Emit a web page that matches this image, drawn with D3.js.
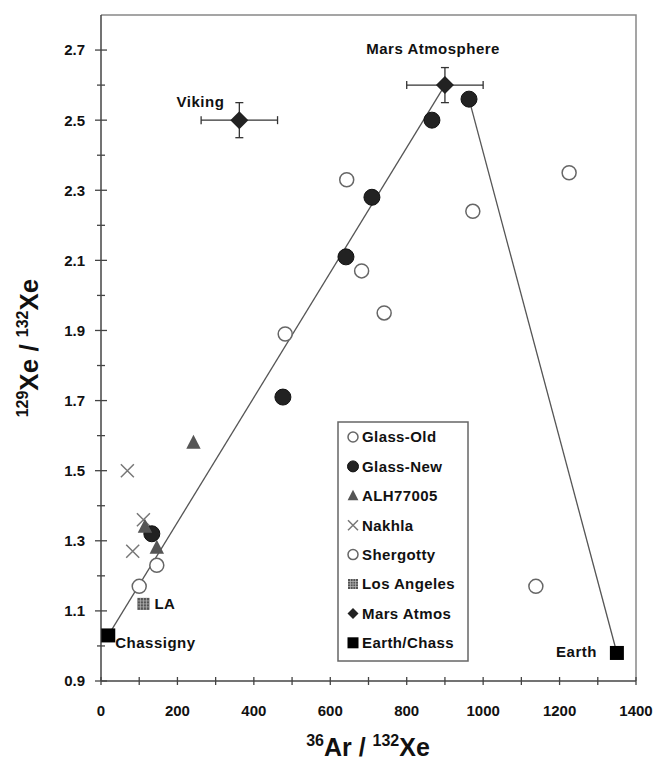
<!DOCTYPE html>
<html>
<head>
<meta charset="utf-8">
<script src="https://cdn.jsdelivr.net/npm/d3@7"></script>
<style>
  body { margin: 0; background: #fff; }
  text { font-family: "Liberation Sans", Arial, sans-serif; font-weight: bold; fill: #111; }
</style>
</head>
<body>
<div id="chart"></div>
<script>
// data: [36Ar/132Xe, 129Xe/132Xe]
var glassOld = [[643, 2.33], [482, 1.89], [682, 2.07], [741, 1.95], [973, 2.24], [1225, 2.35], [1138, 1.17]];
var glassNew = [[133, 1.32], [476, 1.71], [641, 2.11], [709, 2.28], [866, 2.50], [963, 2.56]];
var alh77005 = [[242, 1.58], [115, 1.34], [146, 1.28]];
var nakhla = [[69, 1.50], [111, 1.36], [83, 1.27]];
var shergotty = [[100, 1.17], [146, 1.23]];
var losAngeles = [[111, 1.12]];
// mars atmos: x, y, x error, y error
var marsAtmos = [[362, 2.50, 100, 0.05], [900, 2.60, 100, 0.05]];
var earthChass = [[19, 1.03], [1350, 0.98]];
var mixLines = [[[19, 1.03], [900, 2.60]], [[963, 2.56], [1350, 0.98]]];

var xTickLabels = [0, 200, 400, 600, 800, 1000, 1200, 1400];
var xMinorTicks = [100, 300, 500, 700, 900, 1100, 1300];
var yTickLabels = [0.9, 1.1, 1.3, 1.5, 1.7, 1.9, 2.1, 2.3, 2.5, 2.7];
var yMinorTicks = [1.0, 1.2, 1.4, 1.6, 1.8, 2.0, 2.2, 2.4, 2.6];

var legendNames = ["Glass-Old", "Glass-New", "ALH77005", "Nakhla", "Shergotty", "Los Angeles", "Mars Atmos", "Earth/Chass"];

var W = 656, H = 766;
var margin = { top: 15, right: 20, bottom: 85, left: 101 },
    width = W - margin.left - margin.right,
    height = H - margin.top - margin.bottom;

var svg = d3.select("#chart").append("svg")
    .attr("width", W)
    .attr("height", H);

var g = svg.append("g")
    .attr("transform", "translate(" + margin.left + "," + margin.top + ")");

var x = d3.scaleLinear().domain([0, 1400]).range([0, width]);
var y = d3.scaleLinear().domain([0.9, 2.8]).range([height, 0]);

// frame (top and right)
g.append("path")
    .attr("d", "M0,0H" + width + "V" + height)
    .attr("fill", "none")
    .attr("stroke", "#888")
    .attr("stroke-width", 1.5);

// y axis
g.append("line").attr("x1", 0).attr("x2", 0).attr("y1", 0).attr("y2", height)
    .attr("stroke", "#444").attr("stroke-width", 1.5);
g.selectAll(".ytick").data(yTickLabels).enter().append("line")
    .attr("x1", -6).attr("x2", 6)
    .attr("y1", d => y(d)).attr("y2", d => y(d))
    .attr("stroke", "#444").attr("stroke-width", 1.3);
g.selectAll(".yminor").data(yMinorTicks).enter().append("line")
    .attr("x1", -4).attr("x2", 4)
    .attr("y1", d => y(d)).attr("y2", d => y(d))
    .attr("stroke", "#444").attr("stroke-width", 1.3);
g.selectAll(".ylab").data(yTickLabels).enter().append("text")
    .attr("x", -16).attr("y", d => y(d)).attr("dy", "0.36em")
    .attr("text-anchor", "end")
    .style("font-size", "15px")
    .text(d => d.toFixed(1));

// x axis
g.append("line").attr("x1", 0).attr("x2", width).attr("y1", height).attr("y2", height)
    .attr("stroke", "#444").attr("stroke-width", 1.5);
g.selectAll(".xtick").data(xTickLabels.concat(xMinorTicks)).enter().append("line")
    .attr("x1", d => x(d)).attr("x2", d => x(d))
    .attr("y1", height - 4).attr("y2", height + 4)
    .attr("stroke", "#444").attr("stroke-width", 1.3);
g.selectAll(".xlab").data(xTickLabels).enter().append("text")
    .attr("x", d => x(d)).attr("y", height + 35)
    .attr("text-anchor", "middle")
    .style("font-size", "15px")
    .text(d => d);

// axis titles
var xt = svg.append("text")
    .attr("x", 368).attr("y", 756)
    .attr("text-anchor", "middle")
    .style("font-size", "25px");
xt.append("tspan").attr("dy", "-10").style("font-size", "16px").text("36");
xt.append("tspan").attr("dy", "10").text("Ar / ");
xt.append("tspan").attr("dy", "-10").style("font-size", "16px").text("132");
xt.append("tspan").attr("dy", "10").text("Xe");

var yt = svg.append("text")
    .attr("transform", "translate(38,348) rotate(-90)")
    .attr("text-anchor", "middle")
    .style("font-size", "26px");
yt.append("tspan").attr("dy", "-10").style("font-size", "16px").text("129");
yt.append("tspan").attr("dy", "10").text("Xe / ");
yt.append("tspan").attr("dy", "-10").style("font-size", "16px").text("132");
yt.append("tspan").attr("dy", "10").text("Xe");

// mixing lines
var line = d3.line().x(d => x(d[0])).y(d => y(d[1]));
g.selectAll(".mix").data(mixLines).enter().append("path")
    .attr("d", line)
    .attr("fill", "none")
    .attr("stroke", "#555")
    .attr("stroke-width", 1.3);

// marker shapes
function marker(sel, kind, s) {
    if (kind === "open") {
        sel.append("circle").attr("r", s).attr("fill", "#fff").attr("stroke", "#666").attr("stroke-width", 1.5);
    } else if (kind === "filled") {
        sel.append("circle").attr("r", s).attr("fill", "#222").attr("stroke", "#111").attr("stroke-width", 1);
    } else if (kind === "tri") {
        sel.append("path").attr("d", "M0," + (-s) + "L" + (s * 0.9) + "," + (s * 0.75) + "L" + (-s * 0.9) + "," + (s * 0.75) + "Z")
            .attr("fill", "#555");
    } else if (kind === "cross") {
        sel.append("path").attr("d", "M" + (-s) + "," + (-s) + "L" + s + "," + s + "M" + (-s) + "," + s + "L" + s + "," + (-s))
            .attr("stroke", "#777").attr("stroke-width", 1.5).attr("fill", "none");
    } else if (kind === "grid") {
        sel.append("rect").attr("x", -s).attr("y", -s).attr("width", 2 * s).attr("height", 2 * s).attr("fill", "#555");
        sel.append("path").attr("d", "M" + (-s) + ",0H" + s + "M0," + (-s) + "V" + s +
            "M" + (-s) + "," + (-s / 2) + "H" + s + "M" + (-s) + "," + (s / 2) + "H" + s +
            "M" + (-s / 2) + "," + (-s) + "V" + s + "M" + (s / 2) + "," + (-s) + "V" + s)
            .attr("stroke", "#bbb").attr("stroke-width", 0.7);
    } else if (kind === "diamond") {
        sel.append("path").attr("d", "M0," + (-s) + "L" + s + ",0L0," + s + "L" + (-s) + ",0Z").attr("fill", "#222");
    } else if (kind === "square") {
        sel.append("rect").attr("x", -s).attr("y", -s).attr("width", 2 * s).attr("height", 2 * s).attr("fill", "#000");
    }
}

function drawSeries(data, kind, s) {
    g.append("g").selectAll("g").data(data).enter().append("g")
        .attr("transform", d => "translate(" + x(d[0]) + "," + y(d[1]) + ")")
        .each(function () { marker(d3.select(this), kind, s); });
}

// error bars for mars atmos
var eb = g.append("g").attr("stroke", "#333").attr("stroke-width", 1.3);
marsAtmos.forEach(function (d) {
    var cx = x(d[0]), cy = y(d[1]);
    var x0 = x(d[0] - d[2]), x1 = x(d[0] + d[2]);
    var y0 = y(d[1] - d[3]), y1 = y(d[1] + d[3]);
    eb.append("line").attr("x1", x0).attr("x2", x1).attr("y1", cy).attr("y2", cy);
    eb.append("line").attr("x1", cx).attr("x2", cx).attr("y1", y0).attr("y2", y1);
    eb.append("line").attr("x1", x0).attr("x2", x0).attr("y1", cy - 4).attr("y2", cy + 4);
    eb.append("line").attr("x1", x1).attr("x2", x1).attr("y1", cy - 4).attr("y2", cy + 4);
    eb.append("line").attr("x1", cx - 4).attr("x2", cx + 4).attr("y1", y0).attr("y2", y0);
    eb.append("line").attr("x1", cx - 4).attr("x2", cx + 4).attr("y1", y1).attr("y2", y1);
});

drawSeries(glassOld, "open", 7);
drawSeries(shergotty, "open", 7);
drawSeries(nakhla, "cross", 6.5);
drawSeries(glassNew, "filled", 8);
drawSeries(alh77005, "tri", 8);
drawSeries(losAngeles, "grid", 6);
drawSeries(marsAtmos, "diamond", 9);
drawSeries(earthChass, "square", 7);

// point annotations
function note(p, dx, dy, anchor, txt) {
    g.append("text")
        .attr("x", x(p[0]) + dx).attr("y", y(p[1]) + dy)
        .attr("text-anchor", anchor)
        .style("font-size", "15px")
        .style("letter-spacing", "0.5px")
        .text(txt);
}
note(marsAtmos[0], -15, -13, "end", "Viking");
note(marsAtmos[1], 55, -31, "end", "Mars Atmosphere");
note(losAngeles[0], 11, 5, "start", "LA");
note(earthChass[0], 7, 13, "start", "Chassigny");
note(earthChass[1], -20, 4, "end", "Earth");

// legend
var kinds = ["open", "filled", "tri", "cross", "open", "grid", "diamond", "square"];
var legend = svg.append("g").attr("transform", "translate(338,422)");
legend.append("rect")
    .attr("width", 130).attr("height", 239)
    .attr("fill", "#fff").attr("stroke", "#666").attr("stroke-width", 1.5);
var items = legend.selectAll(".item").data(legendNames).enter().append("g")
    .attr("transform", (d, i) => "translate(15," + (15 + i * 29.4) + ")");
items.each(function (d, i) {
    var s = { open: 5, filled: 5.5, tri: 6, cross: 5, grid: 5, diamond: 5.5, square: 5.5 }[kinds[i]];
    marker(d3.select(this), kinds[i], s);
});
items.append("text")
    .attr("x", 9).attr("dy", "0.36em")
    .style("font-size", "15px")
    .style("letter-spacing", "0.4px")
    .text(d => d);
</script>
</body>
</html>
